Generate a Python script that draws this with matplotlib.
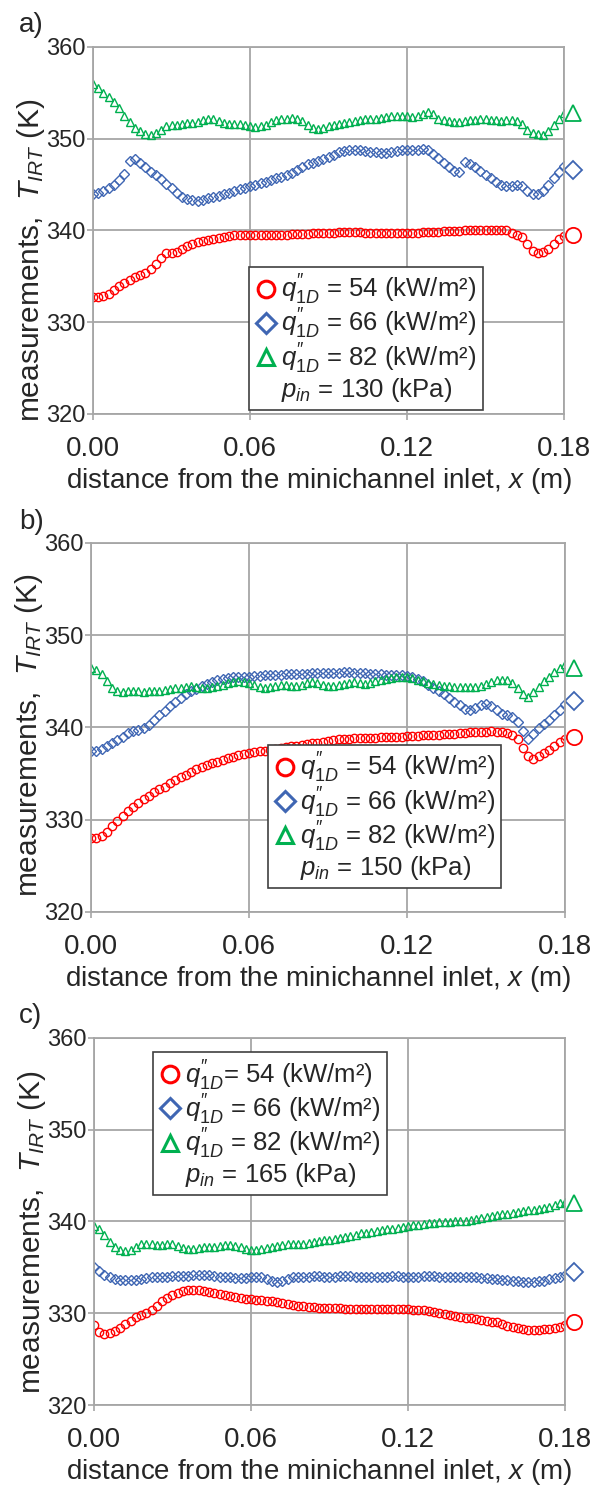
import numpy as np
import matplotlib
matplotlib.use("Agg")
import matplotlib.pyplot as plt
from matplotlib.lines import Line2D

plt.rcParams['font.family'] = ['Liberation Sans', 'DejaVu Sans']
plt.rcParams['mathtext.fontset'] = 'custom'
plt.rcParams['mathtext.rm'] = 'Liberation Sans'
plt.rcParams['mathtext.it'] = 'Liberation Sans:italic'

# measurement positions along the minichannel (m), every 2 mm
x = np.round(np.arange(0, 0.1801, 0.002), 3)

# a) p_in = 130 kPa
a_54 = [332.8, 332.8, 332.9, 333.1, 333.5, 334.0, 334.3, 334.6, 334.9, 335.1,
        335.4, 335.8, 336.3, 337.0, 337.5, 337.6, 337.7, 338.0, 338.3, 338.5,
        338.7, 338.9, 339.0, 339.1, 339.2, 339.3, 339.4, 339.5, 339.5, 339.5,
        339.5, 339.5, 339.5, 339.5, 339.5, 339.5, 339.5, 339.5, 339.6, 339.6,
        339.6, 339.6, 339.7, 339.7, 339.7, 339.7, 339.7, 339.8, 339.8, 339.8,
        339.8, 339.8, 339.7, 339.7, 339.7, 339.7, 339.7, 339.7, 339.7, 339.7,
        339.7, 339.7, 339.7, 339.8, 339.8, 339.8, 339.8, 339.9, 339.9, 339.9,
        339.9, 340.0, 340.0, 340.1, 340.1, 340.1, 340.1, 340.1, 340.0, 340.0,
        339.7, 339.5, 339.3, 338.5, 337.8, 337.6, 337.7, 338.0, 338.5, 339.1, 339.4]
a_66 = [344.0, 344.1, 344.3, 344.6, 345.0, 345.5, 346.2, 347.6, 347.8, 347.3,
        346.9, 346.4, 346.0, 345.6, 345.1, 344.6, 344.1, 343.6, 343.4, 343.3,
        343.2, 343.3, 343.5, 343.7, 343.8, 344.0, 344.1, 344.3, 344.5, 344.6,
        344.8, 345.0, 345.2, 345.3, 345.5, 345.7, 345.8, 346.0, 346.3, 346.6,
        346.9, 347.2, 347.4, 347.6, 347.8, 348.0, 348.2, 348.5, 348.7, 348.8,
        348.8, 348.8, 348.7, 348.6, 348.5, 348.4, 348.4, 348.5, 348.7, 348.8,
        348.8, 348.8, 348.8, 348.9, 348.8, 348.3, 347.9, 347.4, 346.9, 346.5,
        346.4, 347.5, 347.2, 346.9, 346.5, 346.1, 345.7, 345.3, 345.0, 344.9,
        344.9, 345.0, 344.9, 344.3, 344.0, 344.0, 344.3, 345.0, 345.7, 346.4, 347.0]
a_82 = [356.0, 355.5, 355.0, 354.5, 354.0, 353.3, 352.5, 351.8, 351.2, 350.8,
        350.5, 350.4, 350.6, 351.0, 351.4, 351.5, 351.5, 351.6, 351.7, 351.7,
        351.8, 352.0, 352.2, 352.2, 351.9, 351.7, 351.6, 351.6, 351.6, 351.5,
        351.4, 351.3, 351.4, 351.5, 351.8, 352.0, 352.1, 352.2, 352.3, 352.2,
        351.9, 351.5, 351.2, 351.1, 351.2, 351.4, 351.5, 351.6, 351.7, 351.8,
        351.9, 352.0, 352.1, 352.1, 352.2, 352.3, 352.4, 352.5, 352.5, 352.5,
        352.5, 352.4, 352.5, 352.7, 352.9, 352.7, 352.2, 352.0, 351.9, 351.8,
        351.8, 351.9, 352.0, 352.0, 352.1, 352.1, 352.0, 352.0, 351.9, 352.0,
        352.0, 351.9, 351.6, 351.0, 350.6, 350.5, 350.4, 350.8, 351.5, 352.2, 352.8]

# b) p_in = 150 kPa
b_54 = [328.0, 328.0, 328.2, 328.7, 329.3, 329.9, 330.4, 330.9, 331.4, 331.8,
        332.2, 332.6, 333.0, 333.3, 333.6, 334.0, 334.3, 334.6, 334.9, 335.2,
        335.5, 335.7, 335.9, 336.1, 336.3, 336.5, 336.7, 336.8, 337.0, 337.1,
        337.2, 337.3, 337.4, 337.5, 337.6, 337.7, 337.8, 337.9, 338.0, 338.0,
        338.1, 338.2, 338.3, 338.3, 338.4, 338.5, 338.6, 338.7, 338.8, 338.8,
        338.9, 338.9, 338.9, 338.9, 338.9, 339.0, 339.0, 339.0, 339.0, 339.0,
        339.1, 339.1, 339.1, 339.2, 339.2, 339.2, 339.2, 339.3, 339.3, 339.3,
        339.4, 339.4, 339.5, 339.5, 339.5, 339.5, 339.6, 339.5, 339.5, 339.4,
        339.2, 338.8, 337.8, 336.9, 336.6, 336.9, 337.2, 337.6, 338.0, 338.4, 338.8]
b_66 = [337.5, 337.5, 337.7, 338.0, 338.3, 338.6, 339.0, 339.4, 339.6, 339.7,
        339.9, 340.3, 340.8, 341.3, 341.8, 342.3, 342.8, 343.2, 343.6, 343.9,
        344.2, 344.5, 344.7, 344.9, 345.1, 345.3, 345.4, 345.5, 345.5, 345.5,
        345.5, 345.6, 345.6, 345.7, 345.7, 345.7, 345.7, 345.8, 345.8, 345.8,
        345.8, 345.8, 345.9, 345.9, 345.9, 345.9, 345.9, 345.9, 346.0, 346.0,
        345.9, 345.9, 345.9, 345.8, 345.8, 345.8, 345.7, 345.7, 345.7, 345.7,
        345.6, 345.5, 345.3, 345.0, 344.6, 344.3, 343.9, 343.6, 343.2, 342.8,
        342.4, 342.0, 341.9, 342.1, 342.4, 342.5, 342.3, 341.9, 341.5, 341.3,
        341.1, 340.6, 339.6, 338.8, 339.3, 339.9, 340.4, 340.8, 341.3, 341.9, 342.5]
b_82 = [346.5, 346.2, 345.8, 345.0, 344.3, 343.9, 343.8, 343.9, 344.0, 343.9,
        343.8, 343.9, 344.0, 344.0, 344.1, 344.2, 344.3, 344.3, 344.4, 344.5,
        344.4, 344.3, 344.3, 344.4, 344.5, 344.6, 344.8, 344.9, 345.0, 344.9,
        344.8, 344.6, 344.4, 344.3, 344.4, 344.5, 344.6, 344.6, 344.5, 344.5,
        344.6, 344.8, 344.9, 344.8, 344.6, 344.5, 344.5, 344.6, 344.7, 344.8,
        344.9, 344.8, 344.7, 344.8, 345.0, 345.2, 345.3, 345.4, 345.5, 345.5,
        345.5, 345.4, 345.2, 345.0, 344.8, 344.7, 344.6, 344.5, 344.5, 344.4,
        344.4, 344.4, 344.4, 344.4, 344.5, 344.7, 344.9, 345.1, 345.2, 345.1,
        344.8, 344.3, 343.6, 343.3, 343.8, 344.4, 345.0, 345.5, 346.0, 346.5, 346.9]

# c) p_in = 165 kPa
c_54 = [328.7, 328.0, 327.7, 327.8, 328.1, 328.4, 328.8, 329.2, 329.6, 329.8,
        330.0, 330.3, 330.8, 331.3, 331.7, 332.0, 332.2, 332.4, 332.5, 332.5,
        332.5, 332.4, 332.3, 332.2, 332.1, 332.0, 331.9, 331.8, 331.7, 331.6,
        331.5, 331.4, 331.4, 331.3, 331.3, 331.2, 331.1, 331.0, 330.9, 330.8,
        330.8, 330.7, 330.7, 330.6, 330.6, 330.6, 330.6, 330.6, 330.5, 330.5,
        330.5, 330.5, 330.5, 330.5, 330.5, 330.5, 330.5, 330.5, 330.5, 330.5,
        330.5, 330.4, 330.4, 330.3, 330.2, 330.1, 330.0, 329.9, 329.8, 329.7,
        329.6, 329.5, 329.5, 329.4, 329.3, 329.2, 329.1, 329.0, 328.8, 328.6,
        328.5, 328.4, 328.3, 328.2, 328.2, 328.2, 328.3, 328.3, 328.4, 328.5, 328.7]
c_66 = [335.0, 334.6, 334.2, 333.9, 333.7, 333.6, 333.6, 333.6, 333.6, 333.7,
        333.8, 333.9, 334.0, 334.0, 334.0, 334.1, 334.1, 334.1, 334.1, 334.2,
        334.2, 334.2, 334.2, 334.1, 334.0, 334.0, 333.9, 333.8, 333.8, 333.8,
        333.9, 334.0, 333.9, 333.7, 333.5, 333.4, 333.5, 333.7, 333.9, 334.0,
        334.0, 334.0, 334.1, 334.1, 334.0, 334.0, 334.0, 334.1, 334.1, 334.1,
        334.0, 334.0, 334.0, 333.9, 333.9, 334.0, 334.0, 334.1, 334.1, 334.0,
        334.0, 334.0, 334.0, 334.1, 334.1, 334.1, 334.0, 334.0, 334.0, 334.0,
        334.0, 333.9, 333.9, 333.9, 333.8, 333.8, 333.7, 333.7, 333.6, 333.6,
        333.5, 333.5, 333.4, 333.4, 333.4, 333.5, 333.5, 333.7, 333.8, 334.0, 334.2]
c_82 = [339.5, 339.2, 338.5, 337.8, 337.2, 336.9, 336.8, 336.9, 337.2, 337.5,
        337.6, 337.5, 337.4, 337.4, 337.5, 337.5, 337.3, 337.1, 337.0, 337.0,
        337.1, 337.2, 337.2, 337.2, 337.3, 337.4, 337.4, 337.3, 337.2, 337.0,
        336.9, 336.9, 337.0, 337.1, 337.2, 337.3, 337.4, 337.5, 337.6, 337.6,
        337.6, 337.7, 337.8, 337.9, 338.0, 338.0, 338.1, 338.2, 338.3, 338.4,
        338.5, 338.7, 338.8, 338.9, 339.0, 339.1, 339.2, 339.2, 339.3, 339.4,
        339.5, 339.6, 339.6, 339.7, 339.8, 339.8, 339.9, 339.9, 339.9, 340.0,
        340.0, 340.1, 340.2, 340.3, 340.4, 340.5, 340.6, 340.7, 340.8, 340.8,
        340.9, 341.0, 341.1, 341.2, 341.3, 341.4, 341.5, 341.6, 341.8, 342.0, 342.1]

# the large marker drawn just right of each plot (54, 66, 82)
x_end = 0.1835
a_end = [339.5, 346.6, 352.8]
b_end = [339.0, 342.9, 346.5]
c_end = [329.0, 334.5, 342.0]

pressures = ["130", "150", "165"]
letters = ["a)", "b)", "c)"]
flux = ["54", "66", "82"]

red = '#ff0000'
blue = '#3f66b3'
green = '#00b050'
colors = [red, blue, green]
markers = ['o', 'D', '^']
small_ms = [6, 5, 6]
big_ms = [11, 9, 11]

grey = '#a6a6a6'
txt = '#262626'

fig = plt.figure(figsize=(5.94, 14.86), dpi=100)

rects = [[0.1566, 0.7214, 0.793, 0.247],
         [0.1532, 0.3863, 0.798, 0.2483],
         [0.1582, 0.0545, 0.793, 0.247]]
letter_y = [0.9832, 0.6487, 0.3163]
ylab_y = [0.42, 0.48, 0.47]
leg_loc = ['lower left', 'upper left', 'upper left']
leg_anchor = [(0.331, 0.011), (0.373, 0.453), (0.125, 0.962)]
leg_eq = [[" = ", " = ", " = "], [" = ", " = ", " = "], ["= ", " = ", " = "]]

data = [[a_54, a_66, a_82], [b_54, b_66, b_82], [c_54, c_66, c_82]]
ends = [a_end, b_end, c_end]

for k in range(3):
    ax = fig.add_axes(rects[k])
    for s in range(3):
        ax.plot(x, data[k][s], ls='none', marker=markers[s], mfc='none',
                mec=colors[s], ms=small_ms[s], mew=1.0)
        ax.plot([x_end], [ends[k][s]], ls='none', marker=markers[s], mfc='none',
                mec=colors[s], ms=big_ms[s], mew=1.3, clip_on=False)

    ax.set_xlim(0, 0.18)
    ax.set_ylim(320, 360)
    ax.set_xticks([0.0, 0.06, 0.12, 0.18])
    ax.set_xticklabels(["0.00", "0.06", "0.12", "0.18"])
    ax.set_yticks([320, 330, 340, 350, 360])
    ax.grid(True, color=grey, lw=1.3)
    ax.set_axisbelow(True)
    for sp in ax.spines.values():
        sp.set_color(grey)
        sp.set_linewidth(1.3)
    ax.tick_params(axis='both', direction='out', length=4, width=1.2, color=grey,
                   labelcolor=txt)
    ax.tick_params(axis='x', pad=12, labelsize=20)
    ax.tick_params(axis='y', pad=1.5, labelsize=17)

    ax.set_xlabel("distance from the minichannel inlet, $x$ (m)", fontsize=20, color=txt)
    ax.xaxis.set_label_coords(0.479, -0.142)
    ax.set_ylabel("measurements,  $T_{IRT}$ (K)", fontsize=21.5, color=txt)
    ax.yaxis.set_label_coords(-0.098, ylab_y[k])

    handles = []
    labels = []
    for s in range(3):
        handles.append(Line2D([], [], ls='none', marker=markers[s], mfc='none',
                              mec=colors[s], ms=big_ms[s] + 1, mew=2.2))
        labels.append(r"$q^{\prime\prime}_{1D}$" + leg_eq[k][s] + flux[s] + " (kW/m²)")
    handles.append(Line2D([], [], ls='none'))
    labels.append(r"$p_{in}$ = " + pressures[k] + " (kPa)")
    leg = ax.legend(handles, labels, loc=leg_loc[k], bbox_to_anchor=leg_anchor[k],
                    borderaxespad=0, fontsize=18.5, frameon=True, fancybox=False,
                    edgecolor='#404040', framealpha=1, handlelength=0.8,
                    handletextpad=0.2, borderpad=0.25, labelspacing=0.0)
    leg.get_frame().set_linewidth(1.2)
    for t in leg.get_texts():
        t.set_color(txt)

    fig.text(0.032, letter_y[k], letters[k], fontsize=20, color=txt, va='center')

plt.savefig("out.png", dpi=100)
